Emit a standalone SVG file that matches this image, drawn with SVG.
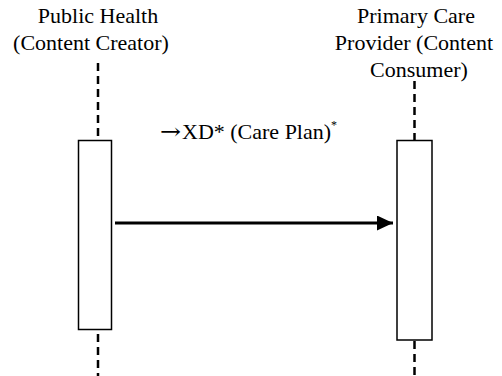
<svg xmlns="http://www.w3.org/2000/svg" width="502" height="376" viewBox="0 0 502 376">
<style>
.t{font-family:"Liberation Serif","Times New Roman",serif;font-size:22px;fill:#000;text-anchor:middle}
.life{stroke:#000;stroke-width:2.5;stroke-dasharray:8 5;fill:none}
.box{fill:#fff;stroke:#000;stroke-width:1.5}
</style>
<defs>
<marker id="ah" markerWidth="16" markerHeight="15" refX="16" refY="7.5" orient="auto" markerUnits="userSpaceOnUse">
<polygon points="0,0 16,7.5 0,15" fill="#000"/>
</marker>
</defs>
<g id="creator">
<text class="t" x="98" y="23">Public Health</text>
<text class="t" x="91" y="50">(Content Creator)</text>
<line class="life" x1="98" y1="63" x2="98" y2="140"/>
<line class="life" x1="98" y1="334" x2="98" y2="376"/>
<rect class="box" x="78.5" y="140.5" width="33" height="189"/>
</g>
<g id="consumer">
<text class="t" x="416" y="23">Primary Care</text>
<text class="t" x="414" y="50">Provider (Content</text>
<text class="t" x="419" y="77">Consumer)</text>
<line class="life" x1="414.5" y1="81" x2="414.5" y2="140"/>
<line class="life" x1="414.5" y1="341" x2="414.5" y2="376"/>
<rect class="box" x="397" y="140.5" width="35" height="199.5"/>
</g>
<g id="connectors">
<line x1="115" y1="223" x2="393" y2="223" stroke="#000" stroke-width="3" marker-end="url(#ah)"/>
<text class="t" x="160" y="139" style="text-anchor:start;font-family:'DejaVu Serif',serif" textLength="21" lengthAdjust="spacingAndGlyphs">→</text>
<text class="t" x="182" y="139" style="text-anchor:start">XD* (Care Plan)<tspan font-size="12" dy="-10">*</tspan></text>
</g>
</svg>
